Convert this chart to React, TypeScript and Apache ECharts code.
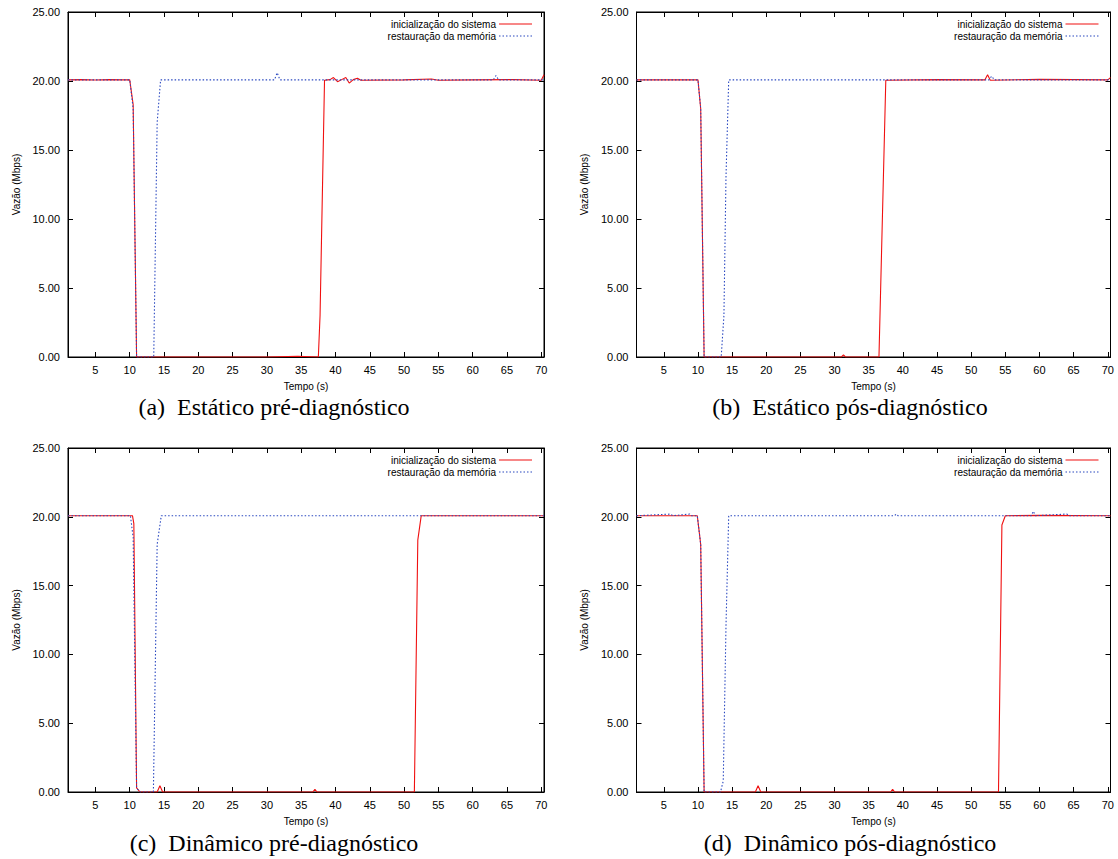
import React, { useEffect, useRef } from "react";
import * as echarts from "echarts";

// ---- data (time in s, throughput in Mbps) ----
const xTicks = [5, 10, 15, 20, 25, 30, 35, 40, 45, 50, 55, 60, 65, 70];
const yTicks = [0, 5, 10, 15, 20, 25];
const seriesNames = ["inicialização do sistema", "restauração da memória"];
const captions = [
  "(a)  Estático pré-diagnóstico",
  "(b)  Estático pós-diagnóstico",
  "(c)  Dinâmico pré-diagnóstico",
  "(d)  Dinâmico pós-diagnóstico",
];

const aInit: [number, number][] = [
  [1, 20.08], [3, 20.1], [5, 20.07], [7, 20.1], [9, 20.08], [10, 20.08], [10.5, 18.3], [11, 0],
  [20, 0], [30, 0], [34.5, 0.05], [37.5, 0], [37.75, 3], [38.4, 20.05], [39.2, 20.1], [39.7, 20.25],
  [40.3, 19.95], [40.9, 20.1], [41.5, 20.25], [42, 19.85], [42.6, 20.1], [43.2, 20.2], [43.7, 20.05],
  [50, 20.08], [54, 20.15], [55, 20.05], [60, 20.08], [66, 20.1], [70, 20.05], [70.4, 20.45],
];
const aRest: [number, number][] = [
  [1, 20.08], [10, 20.08], [10.5, 18.0], [11, 0], [13.5, 0], [14, 17], [14.5, 20.08], [31.1, 20.08],
  [31.5, 20.6], [31.9, 20.08], [63, 20.08], [63.4, 20.4], [63.8, 20.08], [70.4, 20.08],
];
const bInit: [number, number][] = [
  [1, 20.08], [10, 20.08], [10.4, 18], [10.9, 0], [31, 0], [31.3, 0.15], [31.6, 0], [36.5, 0],
  [37.5, 20.05], [45, 20.1], [52, 20.08], [52.4, 20.45], [52.8, 20.05], [60, 20.12], [70, 20.08],
  [70.4, 20.25],
];
const bRest: [number, number][] = [
  [1, 20.08], [10, 20.08], [10.4, 18], [10.9, 0], [13.4, 0], [13.8, 3], [14.1, 13], [14.5, 20.08],
  [52.6, 20.08], [53, 20.35], [53.4, 20.08], [70.4, 20.08],
];
const cInit: [number, number][] = [
  [1, 20.08], [10.4, 20.08], [10.6, 19.5], [11, 0.3], [11.5, 0], [14, 0], [14.4, 0.45], [14.8, 0],
  [36.7, 0], [37, 0.2], [37.3, 0], [51.5, 0], [52, 18.3], [52.5, 20.08], [60, 20.08], [70.4, 20.08],
];
const cRest: [number, number][] = [
  [1, 20.08], [10.1, 20.08], [10.5, 18.5], [11, 0.3], [11.5, 0], [13.45, 0], [14, 18], [14.6, 20.08],
  [52.5, 20.08], [70.4, 20.08],
];
const dInit: [number, number][] = [
  [1, 20.08], [9.9, 20.08], [10.4, 18], [10.9, 0], [18.4, 0], [18.8, 0.45], [19.2, 0], [38.2, 0],
  [38.5, 0.2], [38.8, 0], [54, 0], [54.5, 19.4], [55, 20.08], [60, 20.1], [70.4, 20.08],
];
const dRest: [number, number][] = [
  [1, 20.08], [6, 20.2], [6.3, 20.08], [8.8, 20.2], [9.1, 20.08], [9.9, 20.08], [10.4, 18], [10.9, 0],
  [13.3, 0], [13.7, 0.8], [14.1, 12], [14.5, 20.08], [38.8, 20.08], [39, 20.2], [39.3, 20.08],
  [58.8, 20.08], [59.1, 20.4], [59.4, 20.08], [64, 20.2], [64.3, 20.08], [70.4, 20.08],
];

const panels = [
  { init: aInit, rest: aRest },
  { init: bInit, rest: bRest },
  { init: cInit, rest: cRest },
  { init: dInit, rest: dRest },
];

const X_MIN = 1;
const X_MAX = 70.4;
const RED = "#f01010";
const BLUE = "#2a48c0";
const SANS = "Liberation Sans, Arial, sans-serif";

const grids = [
  { left: 68, top: 12, width: 476, height: 345 },
  { left: 636.5, top: 12, width: 474, height: 345 },
  { left: 68, top: 448, width: 476, height: 344 },
  { left: 636.5, top: 448, width: 474, height: 344 },
];
const captionCenters = [
  [274, 407],
  [850, 407],
  [274, 843],
  [850, 843],
];

export default function App() {
  const ref = useRef<HTMLDivElement>(null);
  useEffect(() => {
    if (!ref.current) return;
    const chart = echarts.init(ref.current, undefined, { renderer: "svg" });
    const xAxis: any[] = [];
    const yAxis: any[] = [];
    const series: any[] = [];
    const graphic: any[] = [];
    const tickStyle = { show: true, inside: true, length: 5, lineStyle: { color: "#000", width: 1 } };
    grids.forEach((g, i) => {
      const common = {
        gridIndex: i,
        type: "value",
        min: X_MIN,
        max: X_MAX,
        splitLine: { show: false },
        axisLine: { show: true, onZero: false, lineStyle: { color: "#000", width: 1 } },
      };
      xAxis.push({
        ...common,
        position: "bottom",
        name: "Tempo (s)",
        nameLocation: "middle",
        nameGap: 24,
        nameTextStyle: { fontFamily: SANS, fontSize: 10, color: "#000" },
        axisTick: { ...tickStyle, customValues: xTicks },
        axisLabel: { show: true, customValues: xTicks, fontFamily: SANS, fontSize: 11, color: "#000", margin: 7 },
      });
      xAxis.push({
        ...common,
        position: "top",
        axisTick: { ...tickStyle, customValues: xTicks },
        axisLabel: { show: false, customValues: xTicks },
      });
      const yCommon = {
        gridIndex: i,
        type: "value",
        min: 0,
        max: 25,
        interval: 5,
        splitLine: { show: false },
        axisLine: { show: true, onZero: false, lineStyle: { color: "#000", width: 1 } },
        axisTick: { ...tickStyle, customValues: yTicks },
      };
      yAxis.push({
        ...yCommon,
        position: "left",
        name: "Vazão (Mbps)",
        nameLocation: "middle",
        nameGap: 47,
        nameTextStyle: { fontFamily: SANS, fontSize: 10, color: "#000" },
        axisLabel: {
          show: true,
          customValues: yTicks,
          formatter: (v: number) => v.toFixed(2),
          fontFamily: SANS,
          fontSize: 11,
          color: "#000",
          margin: 8,
        },
      });
      yAxis.push({ ...yCommon, position: "right", axisLabel: { show: false } });

      series.push({
        type: "line",
        name: seriesNames[0],
        xAxisIndex: i * 2,
        yAxisIndex: i * 2,
        data: panels[i].init,
        showSymbol: false,
        symbol: "none",
        lineStyle: { color: RED, width: 1.1 },
        z: 2,
      });
      series.push({
        type: "line",
        name: seriesNames[1],
        xAxisIndex: i * 2,
        yAxisIndex: i * 2,
        data: panels[i].rest,
        showSymbol: false,
        symbol: "none",
        lineStyle: { color: BLUE, width: 1.1, type: [1.5, 2] },
        z: 3,
      });

      const right = g.left + g.width;
      const textRight = right - 48;
      const lineX1 = right - 45;
      const lineX2 = right - 12;
      const y1 = g.top + 12;
      const y2 = g.top + 24;
      graphic.push(
        { type: "text", x: textRight, y: y1, style: { text: seriesNames[0], font: `10px ${SANS}`, fill: "#000", textAlign: "right", textVerticalAlign: "middle" } },
        { type: "text", x: textRight, y: y2, style: { text: seriesNames[1], font: `10px ${SANS}`, fill: "#000", textAlign: "right", textVerticalAlign: "middle" } },
        { type: "line", shape: { x1: lineX1, y1, x2: lineX2, y2: y1 }, style: { stroke: RED, lineWidth: 1.1 } },
        { type: "line", shape: { x1: lineX1, y1: y2, x2: lineX2, y2: y2 }, style: { stroke: BLUE, lineWidth: 1.1, lineDash: [1.5, 2] } },
        {
          type: "text",
          x: captionCenters[i][0],
          y: captionCenters[i][1],
          style: {
            text: captions[i],
            font: `24px "Liberation Serif", "Times New Roman", serif`,
            fill: "#000",
            textAlign: "center",
            textVerticalAlign: "middle",
          },
        }
      );
    });

    chart.setOption({
      animation: false,
      backgroundColor: "#fff",
      grid: grids.map((g) => ({ ...g, show: true, borderColor: "#000", borderWidth: 1, backgroundColor: "transparent" })),
      xAxis,
      yAxis,
      series,
      graphic,
    });
    return () => chart.dispose();
  }, []);
  return (
    <div
      ref={ref}
      style={{ position: "fixed", left: 0, top: 0, width: 1118, height: 859, background: "#fff" }}
    />
  );
}
